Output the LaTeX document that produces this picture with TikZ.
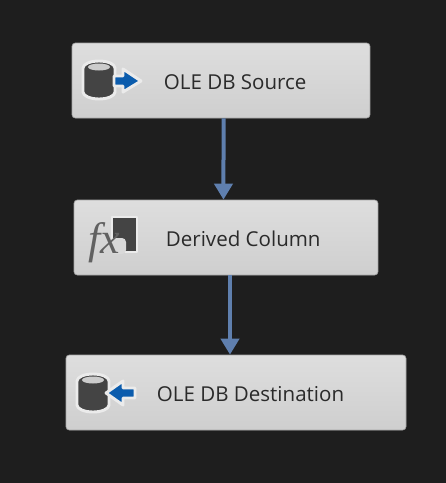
\documentclass[tikz,border=0pt]{standalone}
\usepackage{fontspec}
\setmainfont{Open Sans}
\newfontfamily\fxfont{Liberation Serif}
\usetikzlibrary{positioning,arrows.meta}

\definecolor{canvas}{HTML}{1E1E1E}
\definecolor{flowblue}{HTML}{5F7FAE}
\definecolor{iconblue}{HTML}{0B5CAD}
\definecolor{icondark}{HTML}{444444}
\definecolor{labelgray}{HTML}{2A2A2A}

\tikzset{
  basic/.style  = {rectangle, rounded corners=2.5pt, top color=black!13, bottom color=black!19, draw=black!35, line width=.5pt, inner sep=0pt},
  label/.style  = {font=\fontsize{15.4pt}{18pt}\selectfont, text=labelgray, inner sep=0pt, yshift=-1.2pt},
  flow/.style   = {draw=flowblue, line width=3pt, -{Triangle[width=13.5pt,length=12pt]}},
  halo/.style   = {draw=white!92!black, line width=2.2pt, line join=round},
  pics/cyl/.style = {code={
    \path[halo, fill=icondark] (-16,-12) -- (-16,12) arc[x radius=16, y radius=7, start angle=180, end angle=0] -- (16,-12) arc[x radius=16, y radius=7, start angle=0, end angle=-180] -- cycle;
    \fill[white!80!black] (0,-13) ellipse[x radius=11, y radius=3.5];
  }}
}

\begin{document}
\begin{tikzpicture}[x=.75pt, y=-.75pt]
\fill[canvas] (0,0) rectangle (446,483);

% the three boxes
\node[basic, minimum width=223.5pt, minimum height=56.25pt] (source) at (221,80.5) {};
\node[basic, minimum width=228pt, minimum height=56.25pt] (derived) at (226,237.5) {};
\node[basic, minimum width=255pt, minimum height=56.25pt] (dest) at (236,392.5) {};

% labels
\node[label, anchor=west, right=69pt of source.west] (sourcetext) {OLE DB Source};
\node[label, anchor=west, right=69pt of derived.west] (derivedtext) {Derived Column};
\node[label, anchor=west, right=68.25pt of dest.west] (desttext) {OLE DB Destination};

% source icon
\pic at (99,80) {cyl};
\path[halo, fill=iconblue] (114,76) -- (123,76) -- (123,69) -- (141,81) -- (123,92) -- (123,86) -- (114,86) -- cycle;

% derived column icon
\path[halo, fill=icondark] (112,217) rectangle (137,252);
\fill[white!85!black, rounded corners=3pt] (110,238) rectangle (126,254);
\node[font=\fxfont\itshape\fontsize{33pt}{33pt}\selectfont, text=black!62, inner sep=0pt] (fxmark) at (104,243) {fx};

% destination icon
\pic at (93,393) {cyl};
\path[halo, fill=iconblue] (106,393) -- (123,381) -- (123,388) -- (135,388) -- (135,398) -- (123,398) -- (123,405) -- cycle;

% connectors
\draw[flow] ([xshift=1.9pt]source.south) -- ([xshift=-1.9pt]derived.north);
\draw[flow] ([xshift=3pt]derived.south) -- ([xshift=-4.5pt]dest.north);
\end{tikzpicture}
\end{document}
